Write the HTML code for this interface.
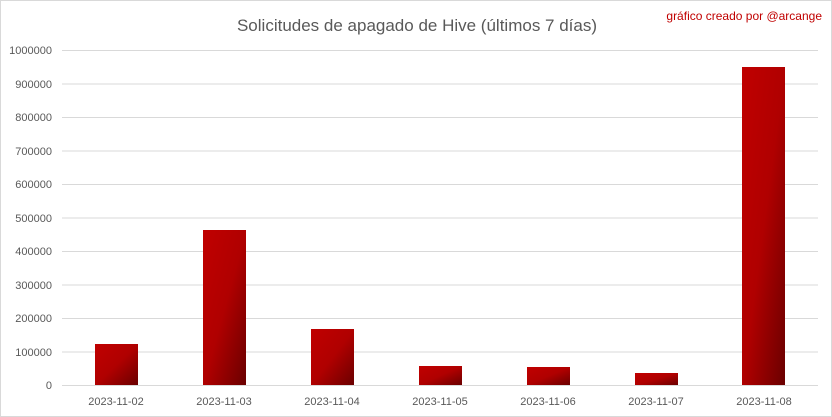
<!DOCTYPE html><html><head><style>body{margin:0;background:#fff}svg{display:block}</style></head><body>
<svg width="832" height="417" xmlns="http://www.w3.org/2000/svg" font-family="Liberation Sans, sans-serif">
<defs><linearGradient id="g" x1="0" y1="0" x2="1" y2="1"><stop offset="0" stop-color="#c00000"/><stop offset="0.5" stop-color="#b00000"/><stop offset="1" stop-color="#6a0000"/></linearGradient></defs>
<rect x="0.5" y="0.5" width="831" height="416" fill="#fff" stroke="#d9d9d9"/>
<text x="417" y="31" text-anchor="middle" font-size="17" fill="#595959">Solicitudes de apagado de Hive (últimos 7 días)</text>
<text x="822" y="20" text-anchor="end" font-size="12" fill="#c00000">gráfico creado por @arcange</text>
<g stroke="#d9d9d9" stroke-width="1">
<line x1="62" x2="818" y1="50.5" y2="50.5"/><line x1="62" x2="818" y1="84" y2="84"/><line x1="62" x2="818" y1="117.5" y2="117.5"/><line x1="62" x2="818" y1="151" y2="151"/><line x1="62" x2="818" y1="184.5" y2="184.5"/><line x1="62" x2="818" y1="218" y2="218"/><line x1="62" x2="818" y1="251.5" y2="251.5"/><line x1="62" x2="818" y1="285" y2="285"/><line x1="62" x2="818" y1="318.5" y2="318.5"/><line x1="62" x2="818" y1="352" y2="352"/><line x1="62" x2="818" y1="385.5" y2="385.5"/>
</g>
<g font-size="11" fill="#595959" text-anchor="end">
<text x="52" y="54">1000000</text><text x="52" y="88">900000</text><text x="52" y="121">800000</text><text x="52" y="155">700000</text><text x="52" y="188">600000</text><text x="52" y="222">500000</text><text x="52" y="255">400000</text><text x="52" y="289">300000</text><text x="52" y="322">200000</text><text x="52" y="356">100000</text><text x="52" y="389">0</text>
</g>
<g fill="url(#g)">
<rect x="95" y="344" width="43" height="41"/><rect x="203" y="230" width="43" height="155"/><rect x="311" y="329" width="43" height="56"/><rect x="419" y="366" width="43" height="19"/><rect x="527" y="367" width="43" height="18"/><rect x="635" y="373" width="43" height="12"/><rect x="742" y="67" width="43" height="318"/>
</g>
<g font-size="11" fill="#595959" text-anchor="middle">
<text x="116" y="405">2023-11-02</text><text x="224" y="405">2023-11-03</text><text x="332" y="405">2023-11-04</text><text x="440" y="405">2023-11-05</text><text x="548" y="405">2023-11-06</text><text x="656" y="405">2023-11-07</text><text x="764" y="405">2023-11-08</text>
</g>
</svg></body></html>
